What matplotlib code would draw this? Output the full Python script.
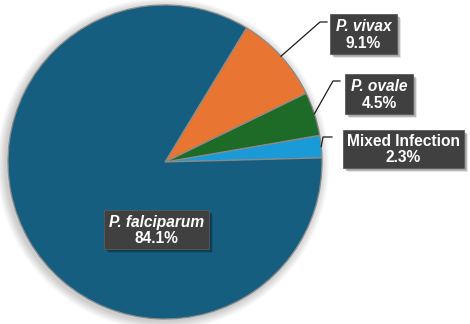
import numpy as np
import matplotlib
matplotlib.use("Agg")
import matplotlib.pyplot as plt
from matplotlib.patches import Circle, Rectangle

# Data
labels = ["Mixed Infection", "P. ovale", "P. vivax", "P. falciparum"]
values = [2.3, 4.5, 9.1, 84.1]
italic = [False, True, True, True]
colors = ["#1a9bd7", "#1e6b27", "#e87532", "#165e80"]

W, H = 470, 324
fig = plt.figure(figsize=(4.7, 3.24), dpi=100)
ax = fig.add_axes([0, 0, 1, 1])

cx, cy, R = 165, H - 162, 157

# soft shadow for pie
for i in range(10):
    r = R + 1 + i * 0.9
    ax.add_patch(Circle((cx - 2, cy - 2), r, color="black", alpha=0.02, lw=0, zorder=0))

wedges, _ = ax.pie(values, colors=colors, startangle=1.5, counterclock=True,
                   center=(cx, cy), radius=R, frame=True,
                   wedgeprops=dict(edgecolor="#8a8a8a", linewidth=0.9))
ax.set_xlim(0, W)
ax.set_ylim(0, H)
ax.set_aspect("equal")
ax.axis("off")

font = ["Liberation Sans", "DejaVu Sans"]
FS = 11.2

def box_label(x, y, w, h, name, pct, ital):
    for k in range(4):
        ax.add_patch(Rectangle((x - w / 2 + 2 + k * 0.5, y - h / 2 - 2 - k * 0.5), w, h,
                               color="black", alpha=0.10, lw=0, zorder=4))
    ax.add_patch(Rectangle((x - w / 2, y - h / 2), w, h, facecolor="#404040",
                           edgecolor="#5a5a5a", lw=0.6, zorder=5))
    ax.text(x, y + 7.5, name, ha="center", va="center", color="white", fontsize=FS,
            fontweight="bold", style="italic" if ital else "normal", family=font, zorder=6)
    ax.text(x, y - 9, pct, ha="center", va="center", color="white", fontsize=FS,
            fontweight="bold", family=font, zorder=6)

# layout: (box center x, box center y pixel, width, height, elbow x, elbow y, end x)
layout = {
    "P. vivax": (363.5, 34, 67, 40, 320, 22, 327),
    "P. ovale": (379, 94, 68, 40, 333, 81, 340),
    "Mixed Infection": (403.5, 149, 121, 38, 323, 137, 332),
}

for wdg, lab, val, it in zip(wedges, labels, values, italic):
    pct = f"{val:.1f}%"
    if lab in layout:
        bx, by, bw, bh, ex, ey, endx = layout[lab]
        th = np.deg2rad((wdg.theta1 + wdg.theta2) / 2)
        sx, sy = cx + R * np.cos(th), cy + R * np.sin(th)
        ax.plot([sx, ex, endx], [sy, H - ey, H - ey], color="#1a1a1a", lw=0.9, zorder=3)
        box_label(bx, H - by, bw, bh, lab, pct, it)
    else:
        box_label(156.5, H - 229.5, 105, 39, lab, pct, it)

fig.savefig("out.png", dpi=100, facecolor="white")
